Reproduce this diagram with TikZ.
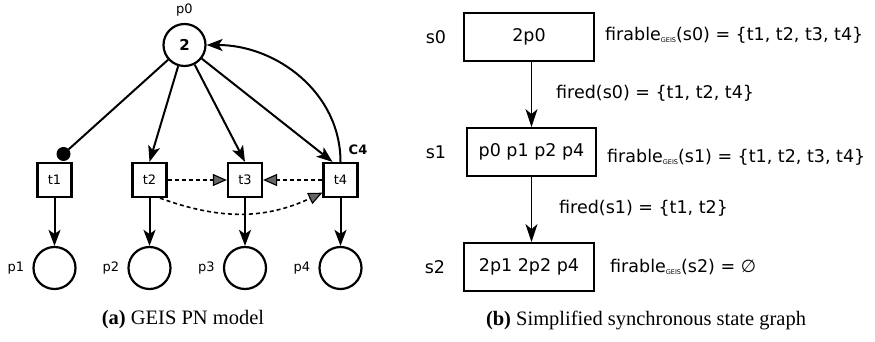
\documentclass[tikz,border=0pt]{standalone}
\usepackage{fontspec}
\setmainfont{DejaVu Sans}
\newfontfamily\capfont{Liberation Serif}
\usetikzlibrary{arrows.meta,calc}
\newcommand\geissub{\raisebox{-2pt}{\fontsize{6.5}{7}\selectfont GEIS}}
\begin{document}
\begin{tikzpicture}[x=1pt,y=1pt,
  place/.style={circle,draw,line width=2.2pt,minimum size=42pt,inner sep=0pt},
  trans/.style={rectangle,draw,line width=2.2pt,minimum size=34pt,inner sep=0pt,
    fill=white,font=\fontsize{13}{15}\selectfont},
  lbl/.style={font=\fontsize{13}{15}\selectfont,inner sep=0pt},
  plbl/.style={label={[lbl,label distance=8pt]left:#1}},
  inh/.style={circle,fill=black,minimum size=14pt,inner sep=0pt},
  arc/.style={line width=2pt,-{Stealth[length=16pt,width=12pt,inset=4pt]}},
  syncarc/.style={line width=1.6pt,dash pattern=on 4pt off 3pt,
    -{Triangle[length=14pt,width=12pt,fill=black!60,line width=1.1pt]}},
  state/.style={draw,line width=1.8pt,minimum width=130pt,minimum height=48pt,
    inner sep=0pt,font=\fontsize{17.5}{20}\selectfont},
  rtxt/.style={font=\fontsize{17.5}{20}\selectfont,inner sep=0pt},
  sarc/.style={line width=1.6pt,-{Stealth[length=18pt,width=12pt,inset=5pt]}},
  captxt/.style={font=\capfont\fontsize{20.5}{24}\selectfont,inner sep=0pt}]
\useasboundingbox (0,0) rectangle (875,342);

% --- Petri net model ---
\node[place,font=\bfseries\fontsize{15}{17}\selectfont] (p0) at (184.5,297) {2};
\node[lbl] (p0lbl) at (184.5,332) {p0};

\node[trans] (t1) at (54.5,162) {t1};
\node[trans] (t2) at (149.5,162) {t2};
\node[trans] (t3) at (245,162) {t3};
\node[trans] (t4) at (340.5,162) {t4};
\node[lbl,font=\bfseries\fontsize{13}{15}\selectfont] (c4) at (358,192) {C4};

\node[place,plbl=p1] (p1) at (54.5,74) {};
\node[place,plbl=p2] (p2) at (149.5,74) {};
\node[place,plbl=p3] (p3) at (245,74) {};
\node[place,plbl=p4] (p4) at (340.5,74) {};

\node[inh] (d1) at (63.5,188) {};
\draw[line width=2pt] (p0) -- (d1);
\draw[arc] (p0) -- (t2.north);
\draw[arc] (p0) -- (t3.north);
\draw[arc] (p0) -- ([xshift=-8pt]t4.north);
\draw[arc] (t4.north) to[out=90,in=0] (p0.east);

\draw[arc] (t1) -- (p1);
\draw[arc] (t2) -- (p2);
\draw[arc] (t3) -- (p3);
\draw[arc] (t4) -- (p4);

\draw[syncarc] (t2.east) -- (t3.west);
\draw[syncarc] (t4.west) -- (t3.east);
\draw[syncarc] (t2.-60) to[out=-20,in=205] (t4.215);

\node[captxt] (capa) at (183,22) {\textbf{(a)} GEIS PN model};

% --- synchronous state graph ---
\node[state] (s0) at (529,305) {2p0};
\node[state,minimum width=129pt] (s1) at (531.5,190) {p0 p1 p2 p4};
\node[state] (s2) at (529,75) {2p1 2p2 p4};

\node[rtxt] (s0lbl) at (436,305) {s0};
\node[rtxt] (s1lbl) at (436,190) {s1};
\node[rtxt] (s2lbl) at (435,75) {s2};

\draw[sarc] (s0.south -| s1.north) -- (s1.north);
\draw[sarc] (s1.south) -- (s1.south |- s2.north);

\node[rtxt,anchor=west] (f0) at (605,307) {firable\geissub(s0) = \{t1, t2, t3, t4\}};
\node[rtxt,anchor=west] (f1) at (607,185) {firable\geissub(s1) = \{t1, t2, t3, t4\}};
\node[rtxt,anchor=west] (f2) at (610,75) {firable\geissub(s2) = {\itshape ∅}};
\node[rtxt,anchor=west] (e0) at (556,249) {fired(s0) = \{t1, t2, t4\}};
\node[rtxt,anchor=west] (e1) at (559,134) {fired(s1) = \{t1, t2\}};

\node[captxt] (capb) at (646,22) {\textbf{(b)} Simplified synchronous state graph};
\end{tikzpicture}
\end{document}
